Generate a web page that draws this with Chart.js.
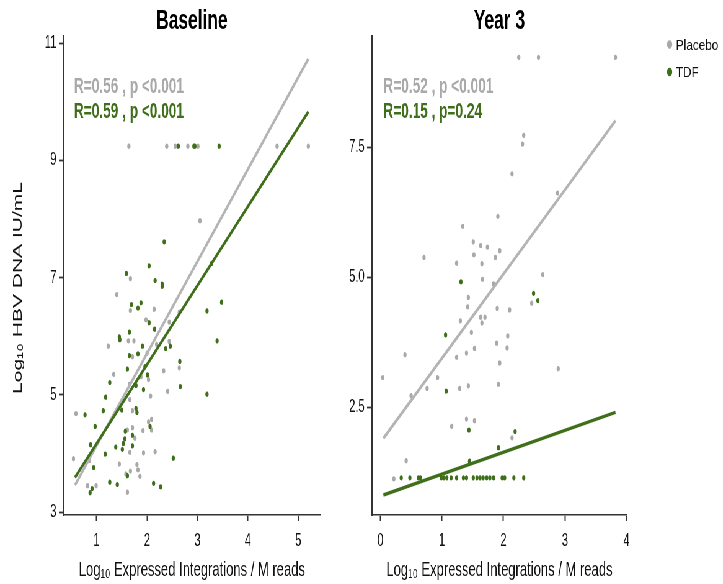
<!DOCTYPE html>
<html><head><meta charset="utf-8">
<script src="https://cdn.jsdelivr.net/npm/chart.js@4.4.1/dist/chart.umd.min.js"></script>
<style>
html,body{margin:0;padding:0;overflow:hidden;background:#fff;width:723px;height:584px}
#wrap{position:absolute;left:0;top:0;width:1166px;height:584px;transform:scaleX(0.62);transform-origin:0 0}
canvas{position:absolute;top:0}
#c1{left:0}
#c2{left:560px}
</style></head><body>
<div id="wrap"><canvas id="c1" width="560" height="584"></canvas><canvas id="c2" width="606" height="584"></canvas></div>
<script>
// ---------- data ----------
const seriesNames = ['Placebo', 'TDF'];
const panelTitles = ['Baseline', 'Year 3'];
const yAxisTitle = 'Log\u2081\u2080 HBV DNA IU/mL';
const xAxisTitle = 'Log\u2081\u2080 Expressed Integrations / M reads';

// Baseline panel
const baseXTicks = [1, 2, 3, 4, 5];
const baseXLabels = ['1', '2', '3', '4', '5'];
const baseYTicks = [3, 5, 7, 9, 11];
const baseYLabels = ['3', '5', '7', '9', '11'];
const baseNotes = ['R=0.56 , p <0.001', 'R=0.59 , p <0.001'];

const basePlaceboX = [1.64, 2.39, 2.56, 2.81, 3.01, 4.58, 5.20, 3.05, 1.67, 1.40,
  1.67, 2.14, 1.98, 2.44, 2.64, 1.23, 1.63, 1.74, 2.19, 2.44,
  1.71, 2.00, 2.64, 2.33, 1.34, 1.88, 2.03, 1.65, 2.41, 2.07,
  1.66, 0.59, 1.71, 2.03, 2.09, 1.71, 1.61, 1.92, 2.09, 1.76,
  1.66, 1.93, 2.16, 0.54, 0.86, 1.45, 1.80, 1.82, 1.67, 1.58,
  1.86, 0.82, 0.99, 1.61];
const basePlaceboY = [9.24, 9.24, 9.24, 9.24, 9.24, 9.24, 9.24, 7.97, 6.98, 6.71,
  6.44, 6.46, 6.28, 6.24, 6.41, 5.83, 5.92, 5.92, 5.86, 5.91,
  5.65, 5.71, 5.46, 5.41, 5.35, 5.31, 5.26, 5.18, 5.06, 4.98,
  4.92, 4.68, 4.73, 4.54, 4.58, 4.44, 4.40, 4.39, 4.40, 4.26,
  4.02, 4.01, 4.03, 3.91, 3.88, 3.82, 3.81, 3.72, 3.70, 3.65,
  3.61, 3.45, 3.45, 3.34];

const baseTdfX = [2.62, 2.93, 2.95, 3.43, 3.28, 2.34, 2.04, 1.59, 2.16, 2.30,
  2.30, 1.88, 1.69, 1.82, 3.48, 3.19, 2.04, 2.15, 1.65, 1.45,
  1.46, 3.39, 1.91, 2.46, 2.37, 1.82, 1.65, 2.65, 1.61, 2.01,
  1.96, 1.26, 1.78, 2.66, 1.93, 3.19, 1.18, 1.13, 1.50, 1.78,
  1.80, 0.77, 0.97, 2.06, 1.57, 1.71, 1.56, 0.88, 1.53, 1.71,
  1.38, 1.51, 1.17, 2.52, 0.94, 1.61, 1.26, 1.41, 2.13, 2.27,
  0.91, 0.87];
const baseTdfY = [9.24, 9.24, 9.24, 9.24, 7.24, 7.61, 7.20, 7.07, 6.95, 6.89,
  6.85, 6.57, 6.54, 6.48, 6.58, 6.43, 6.23, 6.12, 6.07, 5.99,
  5.94, 5.92, 5.83, 5.83, 5.79, 5.70, 5.67, 5.57, 5.44, 5.34,
  5.48, 5.21, 5.16, 5.14, 5.09, 5.01, 4.96, 4.73, 4.74, 4.77,
  4.70, 4.66, 4.46, 4.46, 4.38, 4.31, 4.25, 4.15, 4.17, 4.13,
  4.11, 4.07, 3.99, 3.92, 3.76, 3.62, 3.51, 3.47, 3.49, 3.43,
  3.40, 3.33];

const baseFitPlaceboX = [0.57, 5.20];
const baseFitPlaceboY = [3.46, 10.73];
const baseFitTdfX = [0.57, 5.20];
const baseFitTdfY = [3.59, 9.83];

// Year 3 panel
const y3XTicks = [0, 1, 2, 3, 4];
const y3XLabels = ['0', '1', '2', '3', '4'];
const y3YTicks = [2.5, 5.0, 7.5];
const y3YLabels = ['2.5', '5.0', '7.5'];
const y3Notes = ['R=0.52 , p <0.001', 'R=0.15 , p=0.24'];

const y3PlaceboX = [2.25, 2.57, 3.82, 2.33, 2.31, 2.14, 2.88, 1.91, 1.34, 0.71,
  1.51, 1.63, 1.74, 1.94, 1.87, 1.52, 1.24, 1.65, 2.64, 1.66,
  1.84, 1.43, 1.42, 1.90, 2.10, 2.46, 1.63, 1.70, 1.65, 1.30,
  1.48, 2.07, 1.89, 2.06, 1.53, 1.40, 0.40, 1.24, 1.94, 2.89,
  0.04, 0.93, 1.43, 1.29, 1.92, 0.76, 0.50, 1.40, 1.53, 1.16,
  2.14, 0.42, 0.22];
const y3PlaceboY = [9.23, 9.23, 9.23, 7.73, 7.56, 6.99, 6.62, 6.17, 5.98, 5.38,
  5.68, 5.61, 5.58, 5.51, 5.38, 5.43, 5.27, 5.26, 5.05, 4.96,
  4.87, 4.61, 4.43, 4.40, 4.37, 4.50, 4.23, 4.23, 4.12, 4.16,
  3.94, 3.87, 3.73, 3.64, 3.63, 3.54, 3.51, 3.46, 3.35, 3.24,
  3.07, 3.07, 2.91, 2.86, 2.94, 2.86, 2.72, 2.27, 2.24, 2.13,
  1.91, 1.47, 1.12];

const y3TdfX = [1.31, 2.49, 2.56, 1.06, 1.07, 1.44, 2.19, 1.92, 1.45,
  0.34, 0.48, 0.62, 0.65, 0.99, 1.03, 1.08, 1.15, 1.24, 1.35, 1.40,
  1.51, 1.57, 1.62, 1.67, 1.73, 1.78, 1.84, 1.98, 2.02, 2.17, 2.33];
const y3TdfY = [4.91, 4.69, 4.55, 3.89, 2.81, 2.06, 2.03, 1.72, 1.46,
  1.14, 1.14, 1.14, 1.14, 1.14, 1.14, 1.14, 1.14, 1.14, 1.14, 1.14,
  1.14, 1.14, 1.14, 1.14, 1.14, 1.14, 1.14, 1.14, 1.14, 1.14, 1.14];

const y3FitPlaceboX = [0.05, 3.82];
const y3FitPlaceboY = [1.90, 8.01];
const y3FitTdfX = [0.05, 3.82];
const y3FitTdfY = [0.81, 2.40];

// ---------- styling ----------
const FONT = '"Liberation Sans", Arial, sans-serif';
const GRAY = '#a9a9a9';
const GRAY_LINE = '#b4b4b4';
const GREEN = '#3f6f1a';
const AXIS = '#333333';

const pts = (xs, ys) => xs.map((x, i) => ({x: x, y: ys[i]}));

function pointSet(label, xs, ys, color, order) {
  return {type: 'scatter', label, data: pts(xs, ys), backgroundColor: color, borderColor: color,
    pointRadius: 2.6, borderWidth: 0, order};
}
function lineSet(label, xs, ys, color, order) {
  return {type: 'scatter', label, data: pts(xs, ys), showLine: true, borderColor: color,
    borderWidth: 3.5, pointRadius: 0, order};
}

function yScale(min, max, ticks, labels, width) {
  return {
    type: 'linear', position: 'left', min, max,
    afterBuildTicks: s => { s.ticks = ticks.map(v => ({value: v})); },
    afterFit: s => { s.width = width; },
    ticks: {callback: (v, i) => labels[i], font: {family: FONT, size: 18}, color: '#111', padding: 4, autoSkip: false},
    grid: {display: true, drawOnChartArea: false, drawTicks: true, tickLength: 8, tickColor: AXIS, tickWidth: 1.8},
    border: {display: true, color: AXIS, width: 2},
    title: {display: false}
  };
}
function xScale(min, max, ticks, labels, title) {
  return {
    type: 'linear', position: 'bottom', min, max,
    afterBuildTicks: s => { s.ticks = ticks.map(v => ({value: v})); },
    afterFit: s => { s.height = 69; },
    ticks: {callback: (v, i) => labels[i], font: {family: FONT, size: 18}, color: '#111', padding: 9, autoSkip: false, maxRotation: 0},
    grid: {display: true, drawOnChartArea: false, drawTicks: true, tickLength: 6, tickColor: AXIS, tickWidth: 2},
    border: {display: true, color: AXIS, width: 1.6},
    title: {display: true, text: title, font: {family: FONT, size: 21}, color: '#111', padding: {top: 0, bottom: 1}}
  };
}

const panelText = {
  id: 'panelText',
  afterDraw(chart, args, opts) {
    const ctx = chart.ctx, a = chart.chartArea;
    const xs = chart.scales.x;
    ctx.save();
    ctx.textBaseline = 'alphabetic';
    ctx.fillStyle = '#000';
    ctx.textAlign = 'center';
    ctx.font = 'bold 28px ' + FONT;
    ctx.fillText(opts.title, (a.left + a.right) / 2, 29);
    if (opts.yTitle) {
      ctx.save();
      ctx.translate(29, 288);
      ctx.rotate(-Math.PI / 2);
      ctx.font = '21px ' + FONT;
      ctx.fillStyle = '#111';
      ctx.textBaseline = 'middle';
      ctx.fillText(opts.yTitle, 0, 0);
      ctx.restore();
    }
    ctx.textAlign = 'left';
    ctx.font = 'bold 22px ' + FONT;
    const nx = xs.getPixelForValue(opts.noteX);
    opts.notes.forEach((t, i) => {
      ctx.fillStyle = [GRAY, GREEN][i];
      ctx.fillText(t, nx, a.top + 57 + i * 25);
    });
    if (opts.legend) {
      const lx = a.right + 69;
      [GRAY, GREEN].forEach((c, i) => {
        const cy = 44.5 + i * 27.5;
        ctx.fillStyle = c;
        ctx.beginPath(); ctx.arc(lx, cy, 4.2, 0, Math.PI * 2); ctx.fill();
        ctx.save();
        ctx.translate(lx + 10, cy + 1);
        ctx.scale(1, 0.8);
        ctx.fillStyle = '#111';
        ctx.font = '19px ' + FONT;
        ctx.textBaseline = 'middle';
        ctx.fillText(seriesNames[i], 0, 0);
        ctx.restore();
      });
    }
    ctx.restore();
  }
};

function makeChart(id, cfg) {
  return new Chart(document.getElementById(id), {
    type: 'scatter',
    data: {datasets: [
      lineSet(seriesNames[1] + ' fit', cfg.fitTX, cfg.fitTY, GREEN, 1),
      lineSet(seriesNames[0] + ' fit', cfg.fitPX, cfg.fitPY, GRAY_LINE, 2),
      pointSet(seriesNames[1], cfg.tX, cfg.tY, GREEN, 3),
      pointSet(seriesNames[0], cfg.pX, cfg.pY, GRAY, 4)
    ]},
    options: {
      responsive: false, animation: false, devicePixelRatio: 1,
      layout: {padding: {left: 0, right: cfg.padRight, top: 36, bottom: 0}},
      plugins: {legend: {display: false}, tooltip: {enabled: false},
        panelText: {title: cfg.title, notes: cfg.notes, noteX: cfg.noteX, legend: cfg.legend, yTitle: cfg.yTitle}},
      scales: {
        x: xScale(cfg.xMin, cfg.xMax, cfg.xTicks, cfg.xLabels, xAxisTitle),
        y: yScale(cfg.yMin, cfg.yMax, cfg.yTicks, cfg.yLabels, cfg.yWidth)
      }
    },
    plugins: [panelText]
  });
}

makeChart('c1', {
  title: panelTitles[0], notes: baseNotes, noteX: 0.55, legend: false,
  pX: basePlaceboX, pY: basePlaceboY, tX: baseTdfX, tY: baseTdfY,
  fitPX: baseFitPlaceboX, fitPY: baseFitPlaceboY, fitTX: baseFitTdfX, fitTY: baseFitTdfY,
  xMin: 0.35, xMax: 5.43, xTicks: baseXTicks, xLabels: baseXLabels,
  yMin: 2.95, yMax: 11.12, yTicks: baseYTicks, yLabels: baseYLabels,
  yWidth: 103, yTitle: yAxisTitle, padRight: 44
});
makeChart('c2', {
  title: panelTitles[1], notes: y3Notes, noteX: 0.05, legend: true,
  pX: y3PlaceboX, pY: y3PlaceboY, tX: y3TdfX, tY: y3TdfY,
  fitPX: y3FitPlaceboX, fitPY: y3FitPlaceboY, fitTX: y3FitTdfX, fitTY: y3FitTdfY,
  xMin: -0.135, xMax: 4.005, xTicks: y3XTicks, xLabels: y3XLabels,
  yMin: 0.425, yMax: 9.64, yTicks: y3YTicks, yLabels: y3YLabels,
  yWidth: 40, yTitle: null, padRight: 155
});
</script>
</body></html>
